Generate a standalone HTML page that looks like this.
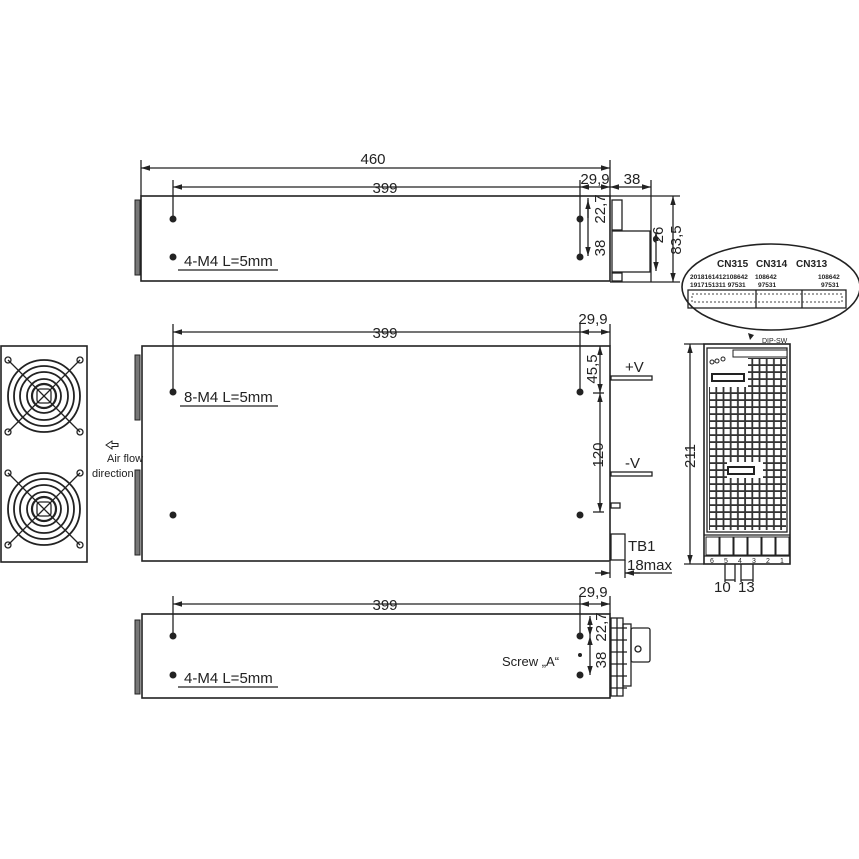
<!DOCTYPE html>
<html><head><meta charset="utf-8"><style>
html,body{margin:0;padding:0;background:#fff}
svg{display:block}
text{font-family:"Liberation Sans",sans-serif;fill:#222}
</style></head><body>
<svg width="859" height="859" viewBox="0 0 859 859" xmlns="http://www.w3.org/2000/svg">
<defs>
<marker id="a" viewBox="0 0 10 10" refX="10" refY="5" markerWidth="7" markerHeight="7" orient="auto-start-reverse"><path d="M0,2 L10,5 L0,8z" fill="#222"/></marker>
<pattern id="grid" x="709" y="358" width="7.2" height="7" patternUnits="userSpaceOnUse"><rect width="7.2" height="7" fill="#333"/><rect x="1" y="1" width="5.4" height="5.2" fill="#fff"/></pattern>
</defs>
<g stroke="#222" fill="none" stroke-width="1.3">
<!-- TOP VIEW -->
<rect x="141" y="196" width="469" height="85" stroke-width="1.6"/>
<rect x="135" y="200" width="5" height="75" fill="#777" stroke-width="1"/>
<line x1="141" y1="160" x2="141" y2="196"/>
<line x1="141" y1="168" x2="610" y2="168" marker-start="url(#a)" marker-end="url(#a)"/>
<line x1="173" y1="180" x2="173" y2="218"/>
<line x1="173" y1="187" x2="580" y2="187" marker-start="url(#a)"/>
<line x1="610" y1="160" x2="610" y2="196"/>
<line x1="580" y1="180" x2="580" y2="256"/>
<line x1="580" y1="187" x2="610" y2="187" marker-start="url(#a)" marker-end="url(#a)"/>
<line x1="610" y1="187" x2="651" y2="187" marker-start="url(#a)" marker-end="url(#a)"/>
<line x1="651" y1="180" x2="651" y2="282"/>
<line x1="610" y1="196" x2="680" y2="196"/>
<line x1="610" y1="282" x2="680" y2="282"/>
<line x1="673" y1="196" x2="673" y2="282" marker-start="url(#a)" marker-end="url(#a)"/>
<line x1="656" y1="232" x2="656" y2="271" marker-start="url(#a)" marker-end="url(#a)"/>
<line x1="588" y1="198" x2="588" y2="256" marker-end="url(#a)"/>
<line x1="588" y1="218" x2="588" y2="200" marker-end="url(#a)"/>
<rect x="612" y="231" width="38" height="41"/>
<rect x="612" y="200" width="10" height="30"/>
<rect x="612" y="273" width="10" height="8"/>
<line x1="178" y1="270" x2="278" y2="270"/>
<!-- MIDDLE VIEW -->
<rect x="142" y="346" width="468" height="215" stroke-width="1.6"/>
<rect x="135" y="355" width="5" height="65" fill="#777" stroke-width="1"/>
<rect x="135" y="470" width="5" height="85" fill="#777" stroke-width="1"/>
<line x1="173" y1="324" x2="173" y2="392"/>
<line x1="173" y1="332" x2="580" y2="332" marker-start="url(#a)"/>
<line x1="580" y1="324" x2="580" y2="390"/>
<line x1="610" y1="324" x2="610" y2="346"/>
<line x1="580" y1="332" x2="610" y2="332" marker-start="url(#a)" marker-end="url(#a)"/>
<line x1="600" y1="346" x2="600" y2="393" marker-start="url(#a)" marker-end="url(#a)"/>
<line x1="600" y1="393" x2="600" y2="512" marker-start="url(#a)" marker-end="url(#a)"/>
<line x1="593" y1="393" x2="604" y2="393"/>
<line x1="593" y1="512" x2="604" y2="512"/>
<rect x="611" y="376" width="41" height="4"/>
<rect x="611" y="472" width="41" height="4"/>
<rect x="611" y="503" width="9" height="5"/>
<rect x="611" y="534" width="14" height="26"/>
<line x1="625" y1="560" x2="625" y2="578"/>
<line x1="610" y1="562" x2="610" y2="578"/>
<line x1="595" y1="573" x2="610" y2="573" marker-end="url(#a)"/>
<line x1="640" y1="573" x2="625" y2="573" marker-end="url(#a)"/>
<line x1="625" y1="573" x2="672" y2="573"/>
<line x1="180" y1="406" x2="278" y2="406"/>
<!-- FAN -->
<rect x="1" y="346" width="86" height="216" stroke-width="1.6"/>
<g id="fan">
<circle cx="44" cy="396" r="36" stroke-width="1.8"/><circle cx="44" cy="396" r="30" stroke-width="1.8"/><circle cx="44" cy="396" r="24" stroke-width="1.8"/><circle cx="44" cy="396" r="17" stroke-width="1.8"/><circle cx="44" cy="396" r="12" stroke-width="2.2"/>
<rect x="37" y="389" width="14" height="14" rx="3"/>
<line x1="8" y1="360" x2="80" y2="432"/><line x1="80" y1="360" x2="8" y2="432"/>
<circle cx="8" cy="360" r="3"/><circle cx="80" cy="360" r="3"/><circle cx="8" cy="432" r="3"/><circle cx="80" cy="432" r="3"/>
</g>
<use href="#fan" y="113"/>
<path d="M106 445 l6 -4 v2.5 h6 v3 h-6 v2.5z" stroke-width="1"/>
<!-- BOTTOM VIEW -->
<rect x="142" y="614" width="468" height="84" stroke-width="1.6"/>
<rect x="135" y="620" width="5" height="74" fill="#777" stroke-width="1"/>
<line x1="173" y1="596" x2="173" y2="636"/>
<line x1="173" y1="604" x2="580" y2="604" marker-start="url(#a)"/>
<line x1="580" y1="596" x2="580" y2="636"/>
<line x1="610" y1="596" x2="610" y2="614"/>
<line x1="580" y1="604" x2="610" y2="604" marker-start="url(#a)" marker-end="url(#a)"/>
<line x1="590" y1="616" x2="590" y2="636" marker-start="url(#a)" marker-end="url(#a)"/>
<line x1="590" y1="636" x2="590" y2="675" marker-start="url(#a)" marker-end="url(#a)"/>
<line x1="178" y1="687" x2="278" y2="687"/>
<rect x="611" y="618" width="12" height="78"/>
<line x1="617" y1="618" x2="617" y2="696"/>
<line x1="611" y1="628" x2="627" y2="628"/><line x1="611" y1="640" x2="627" y2="640"/><line x1="611" y1="652" x2="627" y2="652"/><line x1="611" y1="664" x2="627" y2="664"/><line x1="611" y1="676" x2="627" y2="676"/><line x1="611" y1="688" x2="627" y2="688"/>
<rect x="623" y="624" width="8" height="62"/>
<rect x="631" y="628" width="19" height="34" rx="2"/>
<circle cx="638" cy="649" r="3"/>
<!-- RIGHT VIEW -->
<rect x="704" y="344" width="86" height="220" stroke-width="1.6"/>
<line x1="684" y1="344" x2="704" y2="344"/>
<line x1="684" y1="564" x2="704" y2="564"/>
<line x1="690" y1="344" x2="690" y2="564" marker-start="url(#a)" marker-end="url(#a)"/>
<rect x="707" y="348" width="80" height="184"/>
<ellipse cx="771" cy="287" rx="89" ry="43" stroke-width="1.6"/>
<rect x="688" y="290" width="158" height="18"/>
<line x1="756" y1="290" x2="756" y2="308"/><line x1="802" y1="290" x2="802" y2="308"/>
<line x1="704" y1="535" x2="790" y2="535"/><line x1="704" y1="556" x2="790" y2="556"/>
<line x1="725" y1="564" x2="725" y2="582"/><line x1="735" y1="564" x2="735" y2="582"/>
<line x1="741" y1="564" x2="741" y2="582"/><line x1="753" y1="564" x2="753" y2="582"/>
<line x1="725" y1="580" x2="735" y2="580"/><line x1="741" y1="580" x2="753" y2="580"/>
</g>
<rect x="692" y="294" width="150" height="8" fill="none" stroke="#444" stroke-dasharray="2 2"/>
<rect x="709" y="358" width="77" height="172" fill="url(#grid)"/>
<rect x="708" y="357" width="40" height="30" fill="#fff"/>
<rect x="712" y="374" width="32" height="7" fill="#fff" stroke="#222" stroke-width="2"/>
<circle cx="712" cy="362" r="2" fill="none" stroke="#222"/><circle cx="717" cy="361" r="2" fill="none" stroke="#222"/><circle cx="723" cy="359" r="2" fill="none" stroke="#222"/>
<rect x="733" y="350" width="54" height="7" fill="#fff" stroke="#222"/>
<rect x="727" y="462" width="36" height="16" fill="#fff"/>
<rect x="728" y="467" width="26" height="7" fill="#fff" stroke="#222" stroke-width="2"/>
<g fill="#fff" stroke="#222">
<rect x="706" y="537" width="13" height="18"/><rect x="720" y="537" width="13" height="18"/><rect x="734" y="537" width="13" height="18"/><rect x="748" y="537" width="13" height="18"/><rect x="762" y="537" width="13" height="18"/><rect x="776" y="537" width="13" height="18"/>
</g>
<g fill="#222">
<circle cx="173" cy="219" r="3.5"/><circle cx="173" cy="257" r="3.5"/><circle cx="580" cy="219" r="3.5"/><circle cx="580" cy="257" r="3.5"/>
<circle cx="173" cy="392" r="3.5"/><circle cx="173" cy="515" r="3.5"/><circle cx="580" cy="392" r="3.5"/><circle cx="580" cy="515" r="3.5"/>
<circle cx="173" cy="636" r="3.5"/><circle cx="173" cy="675" r="3.5"/><circle cx="580" cy="636" r="3.5"/><circle cx="580" cy="675" r="3.5"/>
<circle cx="580" cy="655" r="2"/>
</g>
<g font-size="15">
<text x="373" y="164" text-anchor="middle">460</text>
<text x="385" y="193" text-anchor="middle">399</text>
<text x="595" y="184" text-anchor="middle">29,9</text>
<text x="632" y="184" text-anchor="middle">38</text>
<text x="184" y="266">4-M4 L=5mm</text>
<text transform="translate(605,209) rotate(-90)" text-anchor="middle">22,7</text>
<text transform="translate(605,248) rotate(-90)" text-anchor="middle">38</text>
<text transform="translate(663,235) rotate(-90)" text-anchor="middle">26</text>
<text transform="translate(681,240) rotate(-90)" text-anchor="middle">83,5</text>
<text x="385" y="338" text-anchor="middle">399</text>
<text x="593" y="324" text-anchor="middle">29,9</text>
<text x="184" y="402">8-M4 L=5mm</text>
<text transform="translate(597,369) rotate(-90)" text-anchor="middle">45,5</text>
<text transform="translate(603,455) rotate(-90)" text-anchor="middle">120</text>
<text x="625" y="372">+V</text>
<text x="625" y="468">-V</text>
<text x="628" y="551">TB1</text>
<text x="627" y="570">18max</text>
<text x="385" y="610" text-anchor="middle">399</text>
<text x="593" y="597" text-anchor="middle">29,9</text>
<text x="184" y="683">4-M4 L=5mm</text>
<text transform="translate(606,627) rotate(-90)" text-anchor="middle">22,7</text>
<text transform="translate(606,660) rotate(-90)" text-anchor="middle">38</text>
<text x="502" y="666" font-size="13">Screw „A“</text>
<text transform="translate(695,456) rotate(-90)" text-anchor="middle">211</text>
<text x="714" y="592">10</text><text x="738" y="592">13</text>
</g>
<text x="107" y="462" font-size="11">Air flow</text>
<text x="92" y="477" font-size="11">direction</text>
<g font-size="10" font-weight="bold">
<text x="717" y="267">CN315</text><text x="756" y="267">CN314</text><text x="796" y="267">CN313</text>
</g>
<g font-size="6.5" font-weight="bold">
<text x="690" y="279">2018161412108642</text><text x="755" y="279">108642</text><text x="818" y="279">108642</text>
<text x="690" y="287">1917151311 97531</text><text x="758" y="287">97531</text><text x="821" y="287">97531</text>
</g>
<text x="762" y="343" font-size="7">DIP-SW</text>
<path d="M748 333 l6 2 l-4 5z" fill="#222"/>
<g font-size="7" text-anchor="middle">
<text x="712" y="563">6</text><text x="726" y="563">5</text><text x="740" y="563">4</text><text x="754" y="563">3</text><text x="768" y="563">2</text><text x="782" y="563">1</text>
</g>
</svg>
</body></html>
